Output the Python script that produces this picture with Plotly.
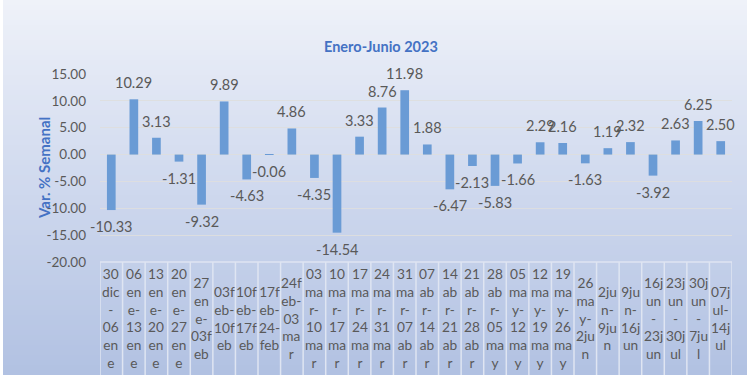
import plotly.graph_objects as go

# ---------------- data ----------------
categories = [
    "30dic-06ene", "06ene-13ene", "13ene-20ene", "20ene-27ene", "27ene-03feb",
    "03feb-10feb", "10feb-17feb", "17feb-24-feb", "24feb-03mar", "03mar-10mar",
    "10mar-17mar", "17mar-24mar", "24mar-31mar", "31mar-07abr", "07abr-14abr",
    "14abr-21abr", "21abr-28abr", "28abr-05may", "05may-12may", "12may-19may",
    "19may-26may", "26may-2jun", "2jun-9jun", "9jun-16jun", "16jun-23jun",
    "23jun-30jul", "30jun-7jul", "07jul-14jul",
]
tick_labels = [
    "30<br>dic<br>-<br>06<br>en<br>e", "06<br>en<br>e-<br>13<br>en<br>e",
    "13<br>en<br>e-<br>20<br>en<br>e", "20<br>en<br>e-<br>27<br>en<br>e",
    "27<br>en<br>e-<br>03f<br>eb", "03f<br>eb-<br>10f<br>eb",
    "10f<br>eb-<br>17f<br>eb", "17f<br>eb-<br>24-<br>feb",
    "24f<br>eb-<br>03<br>ma<br>r", "03<br>ma<br>r-<br>10<br>ma<br>r",
    "10<br>ma<br>r-<br>17<br>ma<br>r", "17<br>ma<br>r-<br>24<br>ma<br>r",
    "24<br>ma<br>r-<br>31<br>ma<br>r", "31<br>ma<br>r-<br>07<br>ab<br>r",
    "07<br>ab<br>r-<br>14<br>ab<br>r", "14<br>ab<br>r-<br>21<br>ab<br>r",
    "21<br>ab<br>r-<br>28<br>ab<br>r", "28<br>ab<br>r-<br>05<br>ma<br>y",
    "05<br>ma<br>y-<br>12<br>ma<br>y", "12<br>ma<br>y-<br>19<br>ma<br>y",
    "19<br>ma<br>y-<br>26<br>ma<br>y", "26<br>ma<br>y-<br>2ju<br>n",
    "2ju<br>n-<br>9ju<br>n", "9ju<br>n-<br>16j<br>un",
    "16j<br>un<br>-<br>23j<br>un", "23j<br>un<br>-<br>30j<br>ul",
    "30j<br>un<br>-<br>7ju<br>l", "07j<br>ul-<br>14j<br>ul",
]
variacion = [
    -10.33, 10.29, 3.13, -1.31, -9.32, 9.89, -4.63, -0.06, 4.86, -4.35,
    -14.54, 3.33, 8.76, 11.98, 1.88, -6.47, -2.13, -5.83, -1.66, 2.29,
    2.16, -1.63, 1.19, 2.32, -3.92, 2.63, 6.25, 2.50,
]
y_ticks = [-20, -15, -10, -5, 0, 5, 10, 15]
y_tick_labels = ["-20.00", "-15.00", "-10.00", "-5.00", "0.00", "5.00", "10.00", "15.00"]

# ---------------- styling ----------------
W, H = 750, 375
ML, MR, MT, MB = 100, 18, 74, 113
PW, PH = W - ML - MR, H - MT - MB
TXT = "#595959"
BLUE_T = "#4472c4"
BAR = "#6a9bd5"
FONT = "Lato"


def lerp(c1, c2, t):
    return tuple(round(a + (b - a) * t) for a, b in zip(c1, c2))


def grad(t):
    top, mid, bot = (239, 242, 249), (210, 219, 239), (177, 193, 226)
    if t < 0.45:
        return lerp(top, mid, t / 0.45)
    return lerp(mid, bot, (t - 0.45) / 0.55)


shapes = []
NSTRIP = 75
for s in range(NSTRIP):
    py0 = H * s / NSTRIP
    py1 = H * (s + 1) / NSTRIP + 0.6
    c = grad((s + 0.5) / NSTRIP)
    shapes.append(dict(
        type="rect", xref="paper", yref="paper", layer="below",
        x0=(3 - ML) / PW, x1=(W - 3 - ML) / PW,
        y0=(H - MB - py0) / PH, y1=(H - MB - py1) / PH,
        fillcolor="rgb(%d,%d,%d)" % c, line=dict(width=0)))

fig = go.Figure()
xs = list(range(len(categories)))
fig.add_trace(go.Bar(x=xs, y=variacion, marker=dict(color=BAR, line=dict(width=0)),
                     hoverinfo="skip"))

annotations = []
for i, v in enumerate(variacion):
    annotations.append(dict(
        x=i, y=v, xref="x", yref="y", text=f"{v:.2f}", showarrow=False,
        yanchor="bottom" if v >= 0 else "top", yshift=6 if v >= 0 else -6,
        font=dict(family=FONT, size=14.5, color=TXT)))
for i, lab in enumerate(tick_labels):
    annotations.append(dict(
        x=i, y=-0.298, xref="x", yref="paper", text=lab, showarrow=False,
        yanchor="middle", xanchor="center", align="center",
        font=dict(family=FONT, size=13.7, color=TXT)))
annotations.append(dict(
    x=(381 - ML) / PW, y=(H - MB - 36) / PH, xref="paper", yref="paper",
    text="<b>Enero-Junio 2023</b>", showarrow=False,
    font=dict(family=FONT, size=14.5, color=BLUE_T)))
annotations.append(dict(
    x=(33 - ML) / PW, y=(H - MB - 168) / PH, xref="paper", yref="paper",
    text="<b>Var. % Semanal</b>", showarrow=False, textangle=-90,
    font=dict(family=FONT, size=15, color=BLUE_T)))

box_bottom = -(MB + 5) / PH
for k in range(len(categories) + 1):
    shapes.append(dict(type="line", xref="x", yref="paper", x0=k - 0.5, x1=k - 0.5,
                       y0=0, y1=box_bottom, line=dict(color="#dfe5f2", width=1.5)))
shapes.append(dict(type="line", xref="paper", yref="paper", x0=0, x1=1, y0=0, y1=0,
                   line=dict(color="#dfe5f2", width=1.5)))

fig.update_layout(
    width=W, height=H, autosize=False,
    margin=dict(l=ML, r=MR, t=MT, b=MB),
    paper_bgcolor="white", plot_bgcolor="rgba(0,0,0,0)",
    showlegend=False, bargap=0.615,
    annotations=annotations, shapes=shapes,
    xaxis=dict(range=[-0.5, len(categories) - 0.5], showticklabels=False,
               showgrid=False, zeroline=False, showline=False, fixedrange=True),
    yaxis=dict(range=[-20, 15], tickvals=y_ticks, ticktext=y_tick_labels,
               tickfont=dict(family=FONT, size=13.5, color=TXT),
               showgrid=True, gridcolor="rgba(222,222,222,0.9)", gridwidth=1,
               zeroline=True, zerolinecolor="rgba(222,222,222,0.9)", zerolinewidth=1,
               showline=False, ticklabelstandoff=13, fixedrange=True),
)

fig.write_html("out.html", config={"displayModeBar": False},
               post_script="document.body.style.margin='0px';")
